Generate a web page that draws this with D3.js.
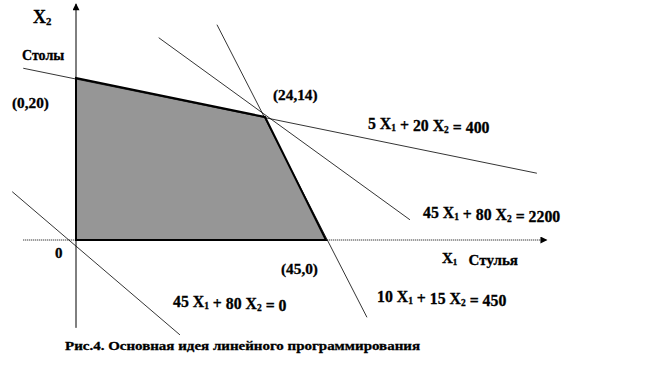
<!DOCTYPE html>
<html>
<head>
<meta charset="utf-8">
<script src="https://cdn.jsdelivr.net/npm/d3@7"></script>
<style>
body { margin: 0; background: #fff; }
</style>
</head>
<body>
<svg id="chart"></svg>
<script>
// corners of the feasible region (x1 = chairs, x2 = tables)
var regionX = [0, 0, 24, 45];
var regionY = [0, 20, 14, 0];
var cornerLabels = ["(0,20)", "(24,14)", "(45,0)"];

var lineNames = ["5 X1 + 20 X2 = 400", "45 X1 + 80 X2 = 2200", "10 X1 + 15 X2 = 450", "45 X1 + 80 X2 = 0"];
var lineX1 = [-6.7, 10.5, 17.9, -8.1];
var lineY1 = [21.5, 26.2, 28.2, 5.5];
var lineX2 = [117.6, 73.9, 59.1, 13.2];
var lineY2 = [7.6, 2.3, -8.8, -10.8];

// how far the axes reach
var axisX = [-6.7, 121];
var axisY = [-10, 31.4];

var caption = "Рис.4. Основная идея линейного программирования";

var svgWidth = 646,
    svgHeight = 387;
var font = "'Liberation Serif', 'Times New Roman', 'DejaVu Serif', serif";
var svg = d3.select('#chart')
    .attr('width', svgWidth)
    .attr('height', svgHeight);

// the sketch is not to scale, so the scales bend at the corner values
var xKnots = Array.from(new Set(regionX)).sort(d3.ascending);
var yKnots = Array.from(new Set(regionY)).sort(d3.ascending);
var x = d3.scaleLinear().domain(xKnots).range([76, 265, 326]);
var y = d3.scaleLinear().domain(yKnots).range([240, 117, 78]);

var defs = svg.append('defs');
defs.append('marker')
    .attr('id', 'arrow')
    .attr('viewBox', '0 0 10 10')
    .attr('refX', 9)
    .attr('refY', 5)
    .attr('markerWidth', 8)
    .attr('markerHeight', 7)
    .attr('markerUnits', 'userSpaceOnUse')
    .attr('orient', 'auto')
    .append('path')
    .attr('d', 'M0,0L10,5L0,10Z')
    .attr('fill', '#000');

// feasible region
var corners = regionX.map(function(d, i) { return [x(d), y(regionY[i])]; });
svg.append('path')
    .attr('d', 'M' + corners.join('L') + 'Z')
    .attr('fill', '#969696')
    .attr('stroke', '#000')
    .attr('stroke-width', 2)
    .attr('stroke-linejoin', 'miter');

// x axis (dotted) and y axis
svg.append('line')
    .attr('x1', x(axisX[0]))
    .attr('x2', x(axisX[1]))
    .attr('y1', y(0))
    .attr('y2', y(0))
    .attr('stroke', '#000')
    .attr('stroke-width', 1)
    .attr('stroke-dasharray', '1,1')
    .attr('marker-end', 'url(#arrow)');

svg.append('line')
    .attr('x1', x(0))
    .attr('x2', x(0))
    .attr('y1', y(axisY[0]))
    .attr('y2', y(axisY[1]))
    .attr('stroke', '#000')
    .attr('stroke-width', 1)
    .attr('marker-end', 'url(#arrow)');

// bottom edge of the region sits on the axis, redraw it thick
svg.append('line')
    .attr('x1', x(0))
    .attr('x2', x(45))
    .attr('y1', y(0))
    .attr('y2', y(0))
    .attr('stroke', '#000')
    .attr('stroke-width', 2);

svg.selectAll('line.constraint')
    .data(lineNames)
    .enter()
    .append('line')
    .attr('class', 'constraint')
    .attr('x1', function(d, i) { return x(lineX1[i]); })
    .attr('y1', function(d, i) { return y(lineY1[i]); })
    .attr('x2', function(d, i) { return x(lineX2[i]); })
    .attr('y2', function(d, i) { return y(lineY2[i]); })
    .attr('stroke', '#000')
    .attr('stroke-width', 0.8);

// text with X1 / X2 subscripts
function richText(sel, str) {
    str.split(/(X\d)/).forEach(function(part) {
        if (!part) return;
        if (/^X\d$/.test(part)) {
            sel.append('tspan').text('X');
            sel.append('tspan').attr('font-size', '0.6em').attr('dy', 2).text(part[1]);
            sel.append('tspan').attr('dy', -2).text('');
        } else {
            sel.append('tspan').text(part);
        }
    });
}

function label(str, px, py, size) {
    var t = svg.append('text')
        .attr('x', px)
        .attr('y', py)
        .attr('font-family', font)
        .attr('font-weight', 'bold')
        .attr('font-size', size)
        .attr('stroke', '#000')
        .attr('stroke-width', 0.3)
        .attr('xml:space', 'preserve');
    richText(t, str);
    return t;
}

// axis names
label('X2', 33, 23, 18);
label('Столы', 22, 60, 14);
label('X1   Стулья', 442, 263, 15);
label('0', 55, 258, 15);

// corner labels
var cornerPos = [[12, 108], [273, 100], [281, 274]];
cornerLabels.forEach(function(d, i) {
    label(d, cornerPos[i][0], cornerPos[i][1], 15.3);
});

// equation labels
var namePos = [[368, 129], [423, 218], [377, 302], [173, 307]];
lineNames.forEach(function(d, i) {
    label(d, namePos[i][0], namePos[i][1], 15.8);
});

svg.append('text')
    .attr('x', 65)
    .attr('y', 350)
    .attr('font-family', font)
    .attr('font-weight', 'bold')
    .attr('font-size', 12.5)
    .attr('stroke', '#000')
    .attr('stroke-width', 0.3)
    .attr('textLength', 355)
    .attr('lengthAdjust', 'spacingAndGlyphs')
    .text(caption);
</script>
</body>
</html>
